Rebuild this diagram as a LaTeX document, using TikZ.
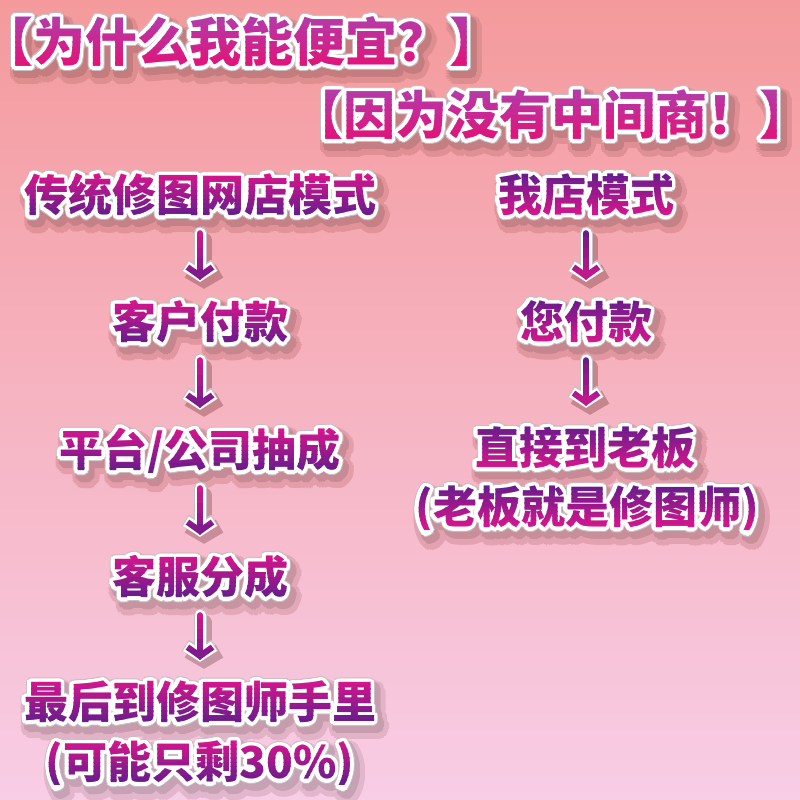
\documentclass[tikz,border=0pt]{standalone}
\usepackage{fontspec}
\setmainfont{Noto Sans CJK SC}
\usepackage[copies]{contour}
\usetikzlibrary{arrows.meta}
\contournumber{24}
\definecolor{bgtop}{HTML}{F49A9C}
\definecolor{bgmid}{HTML}{FAA9B5}
\definecolor{bgbot}{HTML}{F8CDE6}
\definecolor{ttop}{HTML}{B43AA8}
\definecolor{tbot}{HTML}{E0147A}
\definecolor{mag}{HTML}{D4168C}
\definecolor{pur}{HTML}{6A1C8C}
\definecolor{rim}{HTML}{C8C0C4}
\newcommand\fsz[1]{\fontsize{#1}{#1}\selectfont\bfseries}
\tikzset{
  txt/.style={inner sep=0pt, text height={0.88*#1pt}, text depth={0.12*#1pt}, font=\fsz{#1}},
  arwbase/.style={shorten <=16pt, shorten >=18pt, line cap=round},
}
% local background colour at height #1 -> shA, shB
\newcommand\shadecols[1]{%
  \pgfmathsetmacro\pa{min(100,max(0,#1/4))}%
  \pgfmathsetmacro\pb{min(100,max(0,(#1-400)/4))}%
  \ifdim #1pt<400pt \colorlet{bgloc}{bgmid!\pa!bgtop}\else\colorlet{bgloc}{bgbot!\pb!bgmid}\fi
  \colorlet{shA}{black!9!bgloc}\colorlet{shB}{black!20!bgloc}%
}
% #1 name, #2 x, #3 y, #4 size, #5 top col, #6 bottom col, #7 anchor, #8 text
\newcommand\gtext[8]{%
  \shadecols{#3}%
  \node[txt=#4, anchor=#7, text=shA] at (#2+5,#3+8) {\contourlength{10pt}\contour{shA}{#8}};
  \node[txt=#4, anchor=#7, text=shB] at (#2+4,#3+6) {\contourlength{6pt}\contour{shB}{#8}};
  \node[txt=#4, anchor=#7, text=rim] at (#2,#3) {\contourlength{4.6pt}\contour{rim}{#8}};
  \node[txt=#4, anchor=#7, text=white] (#1) at (#2,#3) {\contourlength{3.6pt}\contour{white}{#8}};
  \foreach \i in {0,...,9}{%
    \pgfmathsetmacro\pct{100*\i/9}%
    \begin{scope}
      \clip (-50,{#3-0.5*#4+\i*#4/10}) rectangle (850,{#3-0.5*#4+(\i+1)*#4/10+0.4});
      \node[txt=#4, anchor=#7, text=#6!\pct!#5] at (#2,#3) {#8};
    \end{scope}
  }%
}
% #1 from, #2 to, #3 top col, #4 bottom col, #5 y top, #6 y bottom
\newcommand\garrow[6]{%
  \shadecols{#5}%
  \draw[arwbase, transform canvas={xshift=4pt,yshift=-7pt}, draw=shB, line width=15pt,
      -{Straight Barb[length=9pt,width=31pt,line width=15pt]}] (#1.south) -- (#1.south |- #2.north);
  \draw[arwbase, draw=rim, line width=13pt,
    -{Straight Barb[length=9pt,width=29pt,line width=13pt]}] (#1.south) -- (#1.south |- #2.north);
  \draw[arwbase, draw=white, line width=11pt,
    -{Straight Barb[length=9pt,width=28pt,line width=11pt]}] (#1.south) -- (#1.south |- #2.north);
  \foreach \i in {0,...,5}{%
    \pgfmathsetmacro\pct{100*\i/5}%
    \begin{scope}
      \clip (-50,{#5+\i*(#6-#5)/6}) rectangle (850,{#5+(\i+1)*(#6-#5)/6+0.4});
      \draw[arwbase, shorten >=20pt, draw=#4!\pct!#3, line width=6pt,
        -{Straight Barb[length=9pt,width=25pt,line width=6pt]}] (#1.south) -- (#1.south |- #2.north);
    \end{scope}
  }%
}
\begin{document}
\begin{tikzpicture}[x=1pt,y=-1pt]
\useasboundingbox (0,0) rectangle (800,800);
\shade[top color=bgtop, middle color=bgmid, bottom color=bgbot] (0,0) rectangle (800,800);

\gtext{t1}{-19}{42}{52}{ttop}{tbot}{west}{【为什么我能便宜？】}
\gtext{t2}{291}{115}{52}{ttop}{tbot}{west}{【因为没有中间商！】}

\gtext{L1}{200}{195}{44}{mag}{pur}{center}{传统修图网店模式}
\gtext{L2}{200}{322}{44}{mag}{pur}{center}{客户付款}
\gtext{L3}{200}{450}{44}{mag}{pur}{center}{平台/公司抽成}
\gtext{L4}{200}{577}{44}{mag}{pur}{center}{客服分成}
\gtext{L5}{200}{702}{44}{mag}{pur}{center}{最后到修图师手里}
\gtext{L6}{200}{762}{44}{mag}{pur}{center}{(可能只剩30\%)}

\gtext{R1}{586}{195}{44}{pur}{mag}{center}{我店模式}
\gtext{R2}{586}{322}{44}{pur}{mag}{center}{您付款}
\gtext{R3}{585}{448}{44}{pur}{mag}{center}{直接到老板}
\gtext{R4}{587}{507}{44}{pur}{mag}{center}{(老板就是修图师)}

\garrow{L1}{L2}{mag}{pur}{227}{290}
\garrow{L2}{L3}{mag}{pur}{354}{418}
\garrow{L3}{L4}{mag}{pur}{482}{545}
\garrow{L4}{L5}{mag}{pur}{609}{670}
\garrow{R1}{R2}{pur}{mag}{227}{290}
\garrow{R2}{R3}{pur}{mag}{354}{416}
\end{tikzpicture}
\end{document}
